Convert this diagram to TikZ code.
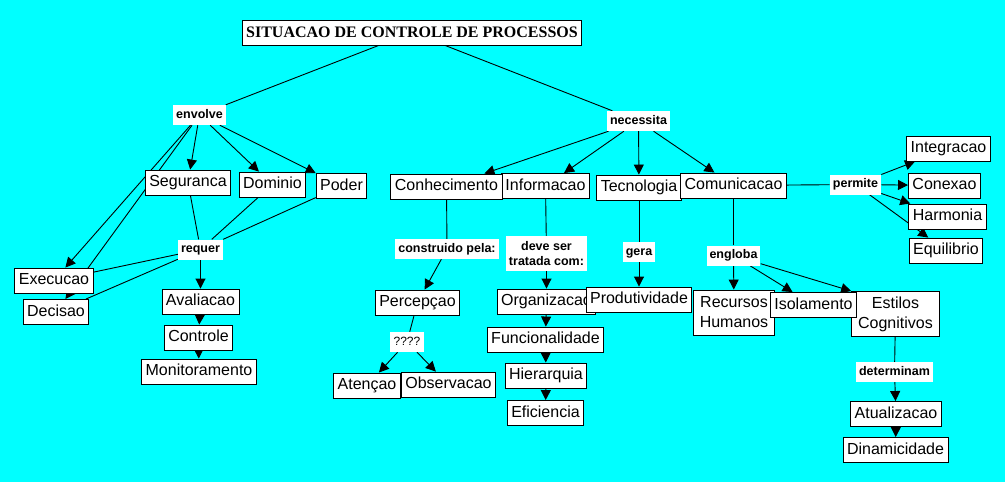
\documentclass[tikz,border=0pt]{standalone}
\usepackage{fontspec}
\setmainfont{Liberation Sans}
\newfontfamily\titlefont{Liberation Serif}
\usetikzlibrary{arrows.meta}
\pgfdeclarelayer{bg}
\pgfdeclarelayer{edges}
\pgfsetlayers{bg,edges,main}
\definecolor{bgcyan}{RGB}{0,255,255}
\begin{document}
\begin{tikzpicture}[x=1pt,y=-1pt,
  concept/.style={draw=black, fill=white, line width=0.9pt, font=\fontsize{16}{20}\selectfont,
    inner xsep=4pt, inner ysep=0pt, text height=12pt, text depth=3.5pt, minimum height=25pt},
  concepttwo/.style={draw=black, fill=white, line width=0.9pt, font=\fontsize{16}{20}\selectfont,
    align=center, inner xsep=6.5pt, inner ysep=0pt, minimum height=45pt},
  link/.style={fill=white, font=\bfseries\fontsize{12.5}{15}\selectfont,
    inner xsep=3pt, inner ysep=0pt, text height=9pt, text depth=2.5pt, minimum height=20pt},
  linktwo/.style={fill=white, font=\bfseries\fontsize{12.5}{15}\selectfont,
    align=center, inner xsep=3pt, inner ysep=0pt, minimum height=35pt},
  plainlink/.style={fill=white, font=\fontsize{12}{15}\selectfont,
    inner xsep=4pt, inner ysep=0pt, text height=9pt, text depth=2.5pt, minimum height=20pt},
  titlebox/.style={draw=black, fill=white, line width=0.9pt, font=\titlefont\bfseries\fontsize{16}{20}\selectfont,
    inner xsep=4pt, inner ysep=0pt, text height=10.6pt, text depth=0pt, minimum height=25pt},
  edge/.style={line width=0.9pt},
  arr/.style={edge, -{Triangle[length=10pt,width=10pt]}}
]
\begin{pgfonlayer}{bg}
\fill[bgcyan] (0,0) rectangle (1005,482);
\end{pgfonlayer}
\useasboundingbox (0,0) rectangle (1005,482);

% title
\node[titlebox] (title) at (412,32.5) {SITUACAO DE CONTROLE DE PROCESSOS};

% left branch
\node[link] (envolve) at (199.5,115) {envolve};
\node[concept] (seg) at (188,182.5) {Seguranca};
\node[concept] (dom) at (272.5,184.5) {Dominio};
\node[concept] (poder) at (341.5,186) {Poder};
\node[link] (requer) at (200.5,249.5) {requer};
\node[concept] (exec) at (54,280.5) {Execucao};
\node[concept] (dec) at (56,312) {Decisao};
\node[concept] (aval) at (200.5,301.5) {Avaliacao};
\node[concept] (contr) at (198.5,337.5) {Controle};
\node[concept] (monit) at (199,371.5) {Monitoramento};

% middle branch
\node[link] (necessita) at (638.5,121) {necessita};
\node[concept] (info) at (545.5,186) {Informacao};
\node[concept] (conh) at (446.5,186.5) {Conhecimento};
\node[concept] (tec) at (639,187.5) {Tecnologia};
\node[concept] (com) at (733.5,185.5) {Comunicacao};
\node[link] (construido) at (447,249) {construido pela:};
\node[linktwo] (deve) at (546.5,253.5) {deve ser\\tratada com:};
\node[link] (gera) at (639,252) {gera};
\node[concept] (perc) at (417.5,302.5) {Percepçao};
\node[plainlink] (q) at (407,342) {????};
\node[concept] (aten) at (367,385.5) {Atençao};
\node[concept] (obs) at (448.5,384.5) {Observacao};
\node[concept] (org) at (546.5,301.5) {Organizacao};
\node[concept] (prod) at (639,299.5) {Produtividade};
\node[concept] (func) at (545.5,339.5) {Funcionalidade};
\node[concept] (hier) at (546,375.5) {Hierarquia};
\node[concept] (efic) at (545.5,413) {Eficiencia};

% right branch
\node[link] (permite) at (855.5,184.5) {permite};
\node[concept] (integ) at (948.5,148.5) {Integracao};
\node[concept] (conex) at (944.5,185.5) {Conexao};
\node[concept] (harm) at (947.5,216.5) {Harmonia};
\node[concept] (equil) at (946,250.5) {Equilibrio};
\node[link] (engloba) at (733.5,255.5) {engloba};
\node[concepttwo] (rec) at (734,312.5) {Recursos\\Humanos};
\node[concepttwo] (estilos) at (895.5,314) {Estilos\\Cognitivos};
\node[concept] (isol) at (813.5,305) {Isolamento};
\node[link] (determ) at (894.5,372) {determinam};
\node[concept] (atual) at (896,414) {Atualizacao};
\node[concept] (dinam) at (895.5,450) {Dinamicidade};

\begin{pgfonlayer}{edges}
\draw[edge] (title) -- (envolve);
\draw[edge] (title) -- (necessita);
% left
\draw[arr] (envolve) -- (seg);
\draw[arr] (envolve) -- (dom);
\draw[arr] (envolve) -- (poder);
\draw[arr] (envolve) -- (exec);
\draw[arr] (envolve) -- (dec);
\draw[edge] (seg) -- (requer);
\draw[edge] (dom) -- (requer);
\draw[edge] (poder) -- (requer);
\draw[edge] (requer) -- (exec);
\draw[edge] (requer) -- (dec);
\draw[arr] (requer) -- (aval);
\draw[arr] (aval) -- (contr);
\draw[arr] (contr) -- (monit);
% middle
\draw[arr] (necessita) -- (conh);
\draw[arr] (necessita) -- (info);
\draw[arr] (necessita) -- (tec);
\draw[arr] (necessita) -- (com);
\draw[edge] (conh) -- (construido);
\draw[arr] (construido) -- (perc);
\draw[edge] (perc) -- (q);
\draw[arr] (q) -- (aten);
\draw[arr] (q) -- (obs);
\draw[edge] (info) -- (deve);
\draw[arr] (deve) -- (org);
\draw[arr] (org) -- (func);
\draw[arr] (func) -- (hier);
\draw[arr] (hier) -- (efic);
\draw[edge] (tec) -- (gera);
\draw[arr] (gera) -- (prod);
% right
\draw[edge] (com) -- (permite);
\draw[arr] (permite) -- (integ);
\draw[arr] (permite) -- (conex);
\draw[arr] (permite) -- (harm);
\draw[arr] (permite) -- (equil);
\draw[edge] (com) -- (engloba);
\draw[arr] (engloba) -- (rec);
\draw[arr] (engloba) -- (isol);
\draw[arr] (engloba) -- (estilos.north west);
\draw[edge] (estilos) -- (determ);
\draw[arr] (determ) -- (atual);
\draw[arr] (atual) -- (dinam);
\end{pgfonlayer}
\end{tikzpicture}
\end{document}
